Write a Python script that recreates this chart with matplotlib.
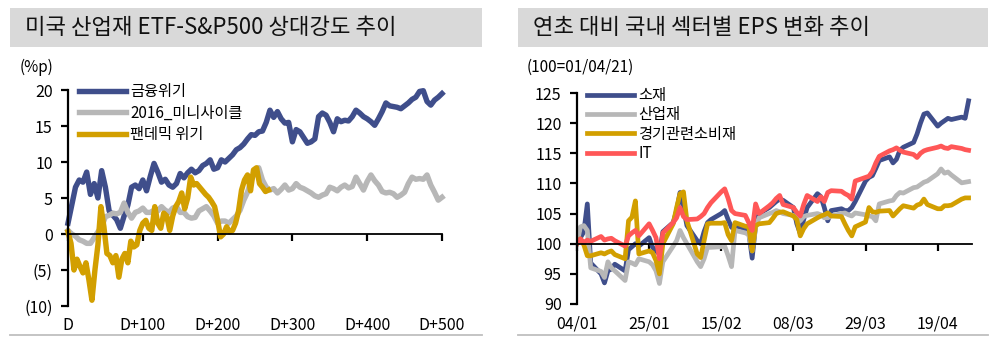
import numpy as np
import pandas as pd
import matplotlib
matplotlib.use("Agg")
import matplotlib.pyplot as plt
import matplotlib.dates as mdates
from matplotlib.patches import Rectangle
from matplotlib.lines import Line2D

plt.rcParams['font.family'] = ['Noto Sans CJK KR', 'DejaVu Sans']

# ---------------- Left panel: US industrials ETF vs S&P500 relative strength (%p) ----------------
rs_days = np.arange(0, 501, 5)
rs_gfc = [
    1.5, 4, 6.5, 7.5, 7.2, 8.6, 5.5, 7, 5, 8.8,
    6.5, 3.2, 2.6, 2, 0.8, 2.5, 4, 6.5, 6.8, 6.3,
    7.5, 6, 8, 9.8, 8.6, 7.2, 7.6, 6.8, 6.5, 7,
    8.4, 7.8, 8.5, 9, 8.5, 8.8, 9.5, 9.8, 10.3, 9,
    9.2, 10.3, 10, 10.5, 11, 11.7, 12, 12.5, 13.2, 13.8,
    13.7, 14.2, 14.3, 15.5, 17.2, 16.2, 17, 16, 15.4, 15.5,
    12.8, 14.5, 14.2, 13.4, 12.6, 12.8, 13.2, 16.3, 16.8, 16.5,
    15.5, 14.2, 16, 15.6, 15.8, 15.7, 16.3, 17.2, 16.8, 16.3,
    16, 15.6, 15.1, 16, 17, 18.2, 17.8, 17.7, 17.6, 17.4,
    17.8, 18.2, 18.7, 19, 19.8, 19.9, 18.4, 17.9, 18.6, 19,
    19.5,
]
rs_mini = [
    0.5, 0, -0.3, -0.8, -1.0, -1.3, -1.3, -0.5, 0.3, 1,
    2.4, 2.6, 2.9, 2.8, 3, 4.3, 3, 2.2, 3, 3.2,
    3.6, 3, 3, 3.3, 3.2, 3.8, 3.3, 3, 3.6, 3.8,
    3, 3, 2.4, 2.2, 2.3, 3.2, 3.5, 3.8, 3.2, 2.5,
    1.5, 1.8, 1.8, 1.5, 2, 2.5, 3.3, 4.7, 5.8, 7.5,
    8.6, 9.2, 7.5, 6.5, 6.1, 6.3, 5.7, 6.2, 6.8, 6.1,
    6.3, 7, 6.5, 6.3, 6, 5.7, 5.3, 5.1, 5.4, 5.6,
    6.5, 6.3, 6, 6.5, 6.8, 6.4, 6.6, 7.9, 7, 6.1,
    7.3, 8.2, 7.4, 6.8, 5.9, 5.7, 5.8, 5.6, 5.1, 5.4,
    5.8, 7, 7.9, 7.6, 7.7, 7.6, 8.2, 6.8, 5.8, 4.7,
    5.1,
]
pandemic_days = np.arange(0, 269, 4)
rs_pandemic = [
    0.3, -1.3, -5, -3.5, -4.5, -5.4, -4, -6.4, -9.2, -5,
    -1.5, 3.8, 1, -2.7, -3, -4, -3, -6, -3.5, -2.7,
    -4, -1, -1.8, -1.5, 0.5, 1.5, 1.9, 0.8, 0.5, 3.8,
    1.5, 0.8, 2.9, 2.5, 0.5, 2.5, 3.8, 4.5, 5.7, 3.5,
    5, 7.9, 6.8, 7, 6.5, 6, 5.5, 5.1, 4.5, 3.8,
    1.9, -0.4, 0, 1, 0.3, 0.5, 1.5, 3.2, 6.1, 7.5,
    8.2, 6, 8.9, 9.2, 7, 6.5, 5.9, 6.1,
]
rs_labels = ['금융위기', '2016_미니사이클', '팬데믹 위기']
rs_xticks = [0, 100, 200, 300, 400, 500]
rs_xticklabels = ['D', 'D+100', 'D+200', 'D+300', 'D+400', 'D+500']
rs_yticks = [-10, -5, 0, 5, 10, 15, 20]
rs_yticklabels = ['(10)', '(5)', '0', '5', '10', '15', '20']

# ---------------- Right panel: sector EPS change since start of year (100 = 01/04/21) ----------------
eps_dates = pd.bdate_range('2021-01-04', '2021-04-28')
eps_materials = [
    100, 101, 102, 106.6, 96.8,
    95, 93.5, 95.5, 95.8, 96.6,
    95.5, 99, 99.5, 100, 99.6,
    101, 99.4, 98.8, 98.3, 102,
    103.5, 105.5, 108.5, 106, 103,
    100.5, 100, 102, 103.5, 104,
    105, 105.5, 104, 102.7, 103,
    102.5, 101.9, 97.6, 103, 105,
    106, 106.5, 107, 107.4, 107.2,
    106, 103.3, 101.7, 104, 106,
    108.3, 107.8, 106, 103.8, 105.5,
    105.8, 105.5, 105.5, 106, 107,
    110.4, 111, 111.3, 112.5, 113.8,
    114.4, 113.4, 114, 115.5, 116,
    116.8, 118.2, 120, 121.5, 121.7,
    119.5, 120, 120.4, 120.8, 120.6,
    121, 120.8, 123.7,
]
eps_industrials = [
    100, 102.8, 103, 102.2, 96,
    95.4, 94.4, 97, 96, 95.5,
    93.9, 97, 96.8, 96.5, 97.5,
    97, 96.5, 95.5, 93.4, 97,
    99.6, 100.5, 102.2, 101, 100,
    97, 96.2, 97.5, 99.4, 99.4,
    99.5, 99.6, 98, 96.2, 102.2,
    101.8, 101.5, 98.8, 102.7, 104.3,
    105, 105.2, 105.5, 105.3, 105,
    104.7, 104.2, 103.8, 104.5, 104.7,
    105, 104.8, 104.3, 104.3, 104.6,
    105, 105.1, 104.8, 104.6, 105.1,
    104.8, 104.6, 104.5, 103.8, 106.6,
    107.1, 107.2, 108, 108.5, 108.4,
    109.3, 109.4, 109.8, 110.2, 110.4,
    111.6, 112.4, 111.7, 111.9, 111.4,
    110.1, 110.2, 110.3,
]
eps_consumer = [
    100, 100.8, 99.8, 98, 98,
    98.5, 98.3, 98.6, 98.8, 98.2,
    97.5, 103.8, 104.4, 107.1, 98.3,
    98.8, 98.5, 97.2, 95, 100,
    103.3, 106, 108.3, 108.6, 103.8,
    98.3, 97.7, 100.5, 103.3, 103.4,
    103.4, 103.5, 101.5, 100.5, 103.5,
    102.9, 102.8, 98.8, 103, 103.3,
    103.5, 104.2, 105, 105.2, 105.3,
    104.6, 104, 101.3, 102.5, 103.3,
    104.3, 104.6, 104.8, 105.1, 104.6,
    104.5, 103.3, 102.2, 101.3, 102.8,
    103.6, 106, 105.3, 105.2, 105.4,
    105.5, 104.6, 105.2, 105.8, 106.3,
    105.9, 106.4, 106.6, 107.4, 106.5,
    105.8, 105.8, 106.3, 106.3, 106.4,
    107.4, 107.6, 107.6,
]
eps_it = [
    100, 100.8, 100.2, 100.6, 100.4,
    101.2, 100.6, 100.8, 100.9, 100.5,
    99.6, 101.3, 101.8, 102.2, 101.3,
    103.3, 102.2, 101, 97.5, 101.8,
    103.5, 104.3, 106, 104.5, 104,
    104.1, 104.5, 105, 106, 106.8,
    108.6, 109.1, 107.5, 105.5, 105,
    104.7, 103.5, 102.2, 106.6, 105,
    106.3, 106.8, 107.5, 108, 106.5,
    106, 105.2, 104.6, 106.5, 108,
    107, 107.8, 107, 108.5, 108.8,
    108.7, 108.3, 108, 107.4, 110.4,
    111, 111.2, 112, 113.4, 114.5,
    115.4, 115.6, 115.9, 115.5, 115.2,
    114.8, 114.3, 115, 115.4, 115.6,
    116, 116.2, 115.9, 115.8, 116.1,
    115.8, 115.6, 115.5,
]
eps_labels = ['소재', '산업재', '경기관련소비재', 'IT']
eps_xticks = ['2021-01-04', '2021-01-25', '2021-02-15', '2021-03-08', '2021-03-29', '2021-04-19']
eps_yticks = [90, 95, 100, 105, 110, 115, 120, 125]

NAVY = '#3F4E8B'
GREY = '#B7B7B7'
GOLD = '#D29F00'
RED = '#FF5757'
BAND = '#D9D9D9'
RULE = '#BFBFBF'

W, H = 1000, 340
fig = plt.figure(figsize=(10, 3.4), dpi=100)


def fx(px):
    return px / W


def fy(py):
    return 1 - py / H


def header(x0, x1, text):
    fig.add_artist(Rectangle((fx(x0), fy(47)), fx(x1 - x0), (47 - 8) / H,
                             transform=fig.transFigure, facecolor=BAND,
                             edgecolor='none', zorder=0))
    fig.text(fx(x0 + 15), fy(27.5), text, fontsize=16, va='center', ha='left',
             color='#111111')
    fig.add_artist(Line2D([fx(x0), fx(x1)], [fy(335), fy(335)],
                          transform=fig.transFigure, color=RULE, lw=1.3))


def style_axes(ax, base):
    for s in ('top', 'right'):
        ax.spines[s].set_visible(False)
    ax.spines['left'].set_linewidth(1.6)
    ax.spines['bottom'].set_position(('data', base))
    ax.spines['bottom'].set_linewidth(1.3)
    ax.tick_params(axis='y', direction='out', length=5, width=1.6, pad=6,
                   labelsize=11.5, colors='black')
    ax.tick_params(axis='x', direction='out', length=5, width=1.6,
                   labelbottom=False)
    ax.patch.set_alpha(0)


# ---- left panel ----
header(10, 482, '미국 산업재 ETF-S&P500 상대강도 추이')
ax1 = fig.add_axes([fx(68), fy(306), fx(442 - 68), (306 - 90) / H])
lw = 3.9
ax1.plot(rs_days, rs_gfc, color=NAVY, lw=lw, label=rs_labels[0], clip_on=False,
         solid_joinstyle='round')
ax1.plot(rs_days, rs_mini, color=GREY, lw=lw, label=rs_labels[1], clip_on=False,
         solid_joinstyle='round')
ax1.plot(pandemic_days, rs_pandemic, color=GOLD, lw=lw, label=rs_labels[2],
         clip_on=False, solid_joinstyle='round')
ax1.set_xlim(0, 500)
ax1.set_ylim(-10, 20)
ax1.set_yticks(rs_yticks)
ax1.set_yticklabels(rs_yticklabels)
ax1.set_xticks(rs_xticks)
style_axes(ax1, 0)
sec1 = ax1.secondary_xaxis('bottom')
sec1.set_xticks(rs_xticks)
sec1.set_xticklabels(rs_xticklabels)
sec1.tick_params(length=0, pad=8, labelsize=11.5)
sec1.spines['bottom'].set_visible(False)
fig.text(fx(20), fy(67), '(%p)', fontsize=11, va='center', ha='left')
ax1.legend(loc='upper left', bbox_to_anchor=(fx(79), fy(83)),
           bbox_transform=fig.transFigure, frameon=False, fontsize=11,
           handlelength=3.1, handletextpad=0.25, labelspacing=0.3,
           borderpad=0, borderaxespad=0)

# ---- right panel ----
header(518, 988, '연초 대비 국내 섹터별 EPS 변화 추이')
ax2 = fig.add_axes([fx(577), fy(304), fx(972 - 577), (304 - 93) / H])
lw2 = 3.4
ax2.plot(eps_dates, eps_materials, color=NAVY, lw=lw2, label=eps_labels[0])
ax2.plot(eps_dates, eps_industrials, color=GREY, lw=lw2, label=eps_labels[1])
ax2.plot(eps_dates, eps_consumer, color=GOLD, lw=lw2, label=eps_labels[2])
ax2.plot(eps_dates, eps_it, color=RED, lw=lw2, label=eps_labels[3])
ax2.set_xlim(pd.Timestamp('2021-01-04'), pd.Timestamp('2021-04-29'))
ax2.set_ylim(90, 125)
ax2.set_yticks(eps_yticks)
xt = pd.to_datetime(eps_xticks)
ax2.set_xticks(xt)
style_axes(ax2, 100)
sec2 = ax2.secondary_xaxis('bottom')
sec2.set_xticks(xt)
sec2.xaxis.set_major_formatter(mdates.DateFormatter('%d/%m'))
sec2.tick_params(length=0, pad=8, labelsize=11.5)
sec2.spines['bottom'].set_visible(False)
fig.text(fx(527), fy(67), '(100=01/04/21)', fontsize=11, va='center', ha='left')
ax2.legend(loc='upper left', bbox_to_anchor=(fx(587), fy(87)),
           bbox_transform=fig.transFigure, frameon=False, fontsize=11,
           handlelength=3.1, handletextpad=0.25, labelspacing=0.15,
           borderpad=0, borderaxespad=0)

fig.savefig('out.png', dpi=100)
